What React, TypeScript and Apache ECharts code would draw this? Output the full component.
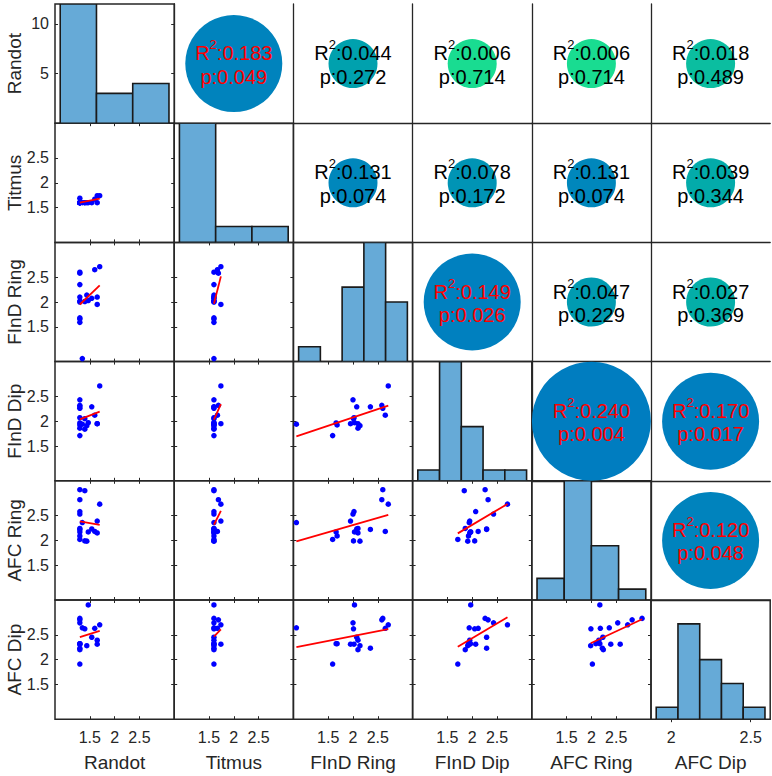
import React, { useEffect, useRef } from 'react';
import * as echarts from 'echarts';

// ---------------- data ----------------
const variableNames = ['Randot', 'Titmus', 'FInD Ring', 'FInD Dip', 'AFC Ring', 'AFC Dip'];

// one value per subject (19 subjects), null = missing
const randot = [1.35, 1.30, 1.30, 1.30, 1.70, 1.60, 1.30, 1.30, 1.30, 1.44, 1.65, 1.30, 1.30, 1.40, 1.54, 1.65, 1.30, 1.47, 1.40];
const titmus = [1.60, 1.60, 1.60, 1.60, 1.74, 1.67, 1.60, 1.69, 1.60, 1.60, 1.74, 1.60, 1.60, 1.60, 1.60, 1.60, 1.60, 1.60, 1.60];
const findRing = [0.86, 1.59, 1.66, 1.68, 2.71, 2.65, 2.35, 2.58, 2.60, 2.14, 1.95, 2.00, 2.02, 2.01, 2.075, 2.10, 2.10, 2.03, null];
const findDip = [1.94, 1.71, 1.965, 1.925, 2.71, 2.12, 2.29, 2.32, 2.26, 1.91, 1.95, 2.43, 2.07, 2.05, 2.29, 1.95, 1.86, 1.97, 1.84];
const afcRing = [2.36, 2.02, 2.17, 2.09, 2.73, 2.18, 2.22, 2.82, 3.02, 1.985, 2.39, 2.53, 2.58, 1.99, 2.23, 2.15, 2.24, 2.17, 3.00];
const afcDip = [2.64, 1.91, 2.32, 2.32, 2.70, 2.63, 2.23, 2.80, 2.83, 2.28, 2.31, 2.74, 2.31, 2.62, 2.45, 2.39, 2.20, 3.10, null];

// diagonal histograms
const histCounts = [
  [12, 3, 4],
  [15, 2, 2],
  [1, 0, 5, 8, 4],
  [1, 11, 5, 1, 1],
  [2, 11, 5, 1],
  [1, 8, 5, 3, 1],
];
const histRanges = [
  [1.30, 1.70],
  [1.60, 1.74],
  [0.86, 2.71],
  [1.71, 2.71],
  [1.985, 3.02],
  [1.905, 2.59],
];
const histYMax = [12, 15, 8, 11, 11, 10];

// upper triangle, row-major: (1,2),(1,3),...,(5,6)
const corrR2 = [0.183, 0.044, 0.006, 0.006, 0.018, 0.131, 0.078, 0.131, 0.039, 0.149, 0.047, 0.027, 0.240, 0.170, 0.120];
const corrP = [0.049, 0.272, 0.714, 0.714, 0.489, 0.074, 0.172, 0.074, 0.344, 0.026, 0.229, 0.369, 0.004, 0.017, 0.048];

const scatterRange = [0.8, 3.2];
const scatterTicks = [1.5, 2, 2.5];
const randotHistTicks = [5, 10];
const afcDipHistTicks = [2, 2.5];

// ---------------- style ----------------
const FONT = '"Liberation Sans", Arial, Helvetica, sans-serif';
const EDGE = '#262626';
const BAR = '#66AAD7';
const LEFT = 55;
const TOP = 4;
const CELL = 119.2;

function circleColor(p: number) {
  const f = Math.min(1, 0.49 + 0.52 * p);
  const g = Math.round(f * 255);
  const b = Math.round((1 - f / 2) * 255);
  const r = Math.round(Math.max(0, p - 0.3) * 60);
  return `rgb(${r},${g},${b})`;
}
function circleSize(p: number) {
  if (p < 0.01) return 119;
  if (p < 0.05) return 97;
  return 49;
}

function fitLine(xs: (number | null)[], ys: (number | null)[]) {
  const pts: number[][] = [];
  xs.forEach((x, i) => {
    const y = ys[i];
    if (x != null && y != null) pts.push([x, y]);
  });
  const n = pts.length;
  const mx = pts.reduce((s, p) => s + p[0], 0) / n;
  const my = pts.reduce((s, p) => s + p[1], 0) / n;
  let sxy = 0, sxx = 0;
  pts.forEach((p) => { sxy += (p[0] - mx) * (p[1] - my); sxx += (p[0] - mx) ** 2; });
  const slope = sxx ? sxy / sxx : 0;
  const b = my - slope * mx;
  const x0 = Math.min(...pts.map((p) => p[0]));
  const x1 = Math.max(...pts.map((p) => p[0]));
  return { pts, line: [[x0, b + slope * x0], [x1, b + slope * x1]] };
}

function buildOption() {
  const vars = [randot, titmus, findRing, findDip, afcRing, afcDip];
  const grid: any[] = [];
  const xAxis: any[] = [];
  const yAxis: any[] = [];
  const series: any[] = [];
  const graphic: any[] = [];
  let corrIdx = 0;
  const labelStyle = { fontSize: 16, color: EDGE, fontFamily: FONT };

  for (let r = 0; r < 6; r++) {
    for (let c = 0; c < 6; c++) {
      const gi = grid.length;
      const isUpper = r < c;
      const isDiag = r === c;
      grid.push({
        left: LEFT + c * CELL,
        top: TOP + r * CELL,
        width: CELL,
        height: CELL,
        show: !isUpper,
        borderColor: EDGE,
        borderWidth: 1.5,
        backgroundColor: 'transparent',
        outerBoundsMode: 'none',
        containLabel: false,
      });
      const xi = xAxis.length;
      const yi = yAxis.length;
      if (!isUpper && !isDiag) {
        const mk = (pos: string, lab: boolean, isX: boolean) => ({
          type: 'value',
          gridIndex: gi,
          min: scatterRange[0],
          max: scatterRange[1],
          position: pos,
          axisLine: { show: false },
          splitLine: { show: false },
          axisTick: { show: true, inside: true, length: 3, customValues: scatterTicks, lineStyle: { color: EDGE, width: 1 } },
          axisLabel: { show: lab, customValues: scatterTicks, margin: isX ? 10 : 6, ...labelStyle },
        });
        xAxis.push(mk('bottom', r === 5, true));
        xAxis.push(mk('top', false, true));
        yAxis.push(mk('left', c === 0, false));
        yAxis.push(mk('right', false, false));
        const { pts, line } = fitLine(vars[c], vars[r]);
        series.push({
          type: 'scatter', xAxisIndex: xi, yAxisIndex: yi, data: pts, symbolSize: 5.5,
          itemStyle: { color: '#0000ff', opacity: 1 }, silent: true, z: 2,
        });
        series.push({
          type: 'line', xAxisIndex: xi, yAxisIndex: yi, data: line, showSymbol: false, symbol: 'none',
          lineStyle: { color: '#ff0000', width: 1.8 }, silent: true, z: 3,
        });
      } else if (isDiag) {
        const [lo, hi] = histRanges[r];
        const counts = histCounts[r];
        const w = (hi - lo) / counts.length;
        const pad = (hi - lo) * 0.048;
        const showX = r === 5;
        const showY = r === 0;
        const mkx = (pos: string, lab: boolean) => ({
          type: 'value', gridIndex: gi, min: lo - pad, max: hi + pad, position: pos,
          axisLine: { show: false }, splitLine: { show: false },
          axisTick: { show: showX, inside: true, length: 3, customValues: afcDipHistTicks, lineStyle: { color: EDGE } },
          axisLabel: { show: lab, customValues: afcDipHistTicks, margin: 10, ...labelStyle },
        });
        const mky = (pos: string, lab: boolean) => ({
          type: 'value', gridIndex: gi, min: 0, max: histYMax[r], position: pos,
          axisLine: { show: false }, splitLine: { show: false },
          axisTick: { show: showY, inside: true, length: 3, customValues: randotHistTicks, lineStyle: { color: EDGE } },
          axisLabel: { show: lab, customValues: randotHistTicks, margin: 6, ...labelStyle },
        });
        xAxis.push(mkx('bottom', showX));
        xAxis.push(mkx('top', false));
        yAxis.push(mky('left', showY));
        yAxis.push(mky('right', false));
        series.push({
          type: 'custom', xAxisIndex: xi, yAxisIndex: yi, silent: true, clip: true,
          data: counts.map((cnt, k) => [lo + k * w, lo + (k + 1) * w, cnt]),
          encode: { x: [0, 1], y: 2 },
          renderItem: (params: any, api: any) => {
            const cnt = api.value(2);
            if (!cnt) return null;
            const p0 = api.coord([api.value(0), 0]);
            const p1 = api.coord([api.value(1), cnt]);
            return {
              type: 'rect',
              shape: { x: p0[0], y: p1[1], width: p1[0] - p0[0], height: p0[1] - p1[1] },
              style: { fill: BAR, stroke: '#1a1a1a', lineWidth: 1.6 },
            };
          },
        });
      } else {
        const base = {
          type: 'value', gridIndex: gi, min: 0, max: 1,
          axisLine: { show: true, onZero: false, lineStyle: { color: EDGE, width: 1.3 } },
          axisTick: { show: false }, axisLabel: { show: false }, splitLine: { show: false },
        };
        xAxis.push({ ...base, position: 'bottom' });
        yAxis.push({ ...base, position: 'left' });
        const r2 = corrR2[corrIdx];
        const p = corrP[corrIdx];
        corrIdx++;
        const tc = p < 0.05 ? '#ff0000' : '#000000';
        series.push({
          type: 'scatter', xAxisIndex: xi, yAxisIndex: yi, silent: true, z: 2,
          data: [[0.5, 0.5]],
          symbolSize: circleSize(p),
          itemStyle: { color: circleColor(p), opacity: 1 },
          label: {
            show: true,
            position: 'inside',
            offset: [0, 0.5],
            formatter: `{a|R}{s|2}{a|:${r2.toFixed(3)}}\n{b|p:${p.toFixed(3)}}`,
            rich: {
              a: { fontSize: 20, lineHeight: 25, padding: [6, 0, 0, 0], verticalAlign: 'bottom', color: tc, fontFamily: FONT },
              s: { fontSize: 13, lineHeight: 13, verticalAlign: 'top', color: tc, fontFamily: FONT },
              b: { fontSize: 20, lineHeight: 27, color: tc, fontFamily: FONT },
            },
          },
        });
      }
    }
  }

  variableNames.forEach((name, i) => {
    graphic.push({
      type: 'text',
      x: LEFT + i * CELL + CELL / 2,
      y: 762,
      silent: true,
      style: { text: name, fontSize: 19, fontFamily: FONT, fill: EDGE, textAlign: 'center', textVerticalAlign: 'middle', align: 'center', verticalAlign: 'middle' },
    });
    graphic.push({
      type: 'text',
      x: 14.5,
      y: TOP + i * CELL + CELL / 2,
      rotation: Math.PI / 2,
      silent: true,
      style: { text: name, fontSize: 19, fontFamily: FONT, fill: EDGE, textAlign: 'center', textVerticalAlign: 'middle', align: 'center', verticalAlign: 'middle' },
    });
  });

  return {
    animation: false,
    backgroundColor: '#ffffff',
    grid,
    xAxis,
    yAxis,
    series,
    graphic,
  };
}

export default function App() {
  const ref = useRef<HTMLDivElement>(null);
  useEffect(() => {
    if (!ref.current) return;
    const chart = echarts.init(ref.current, undefined, { renderer: 'svg' });
    chart.setOption(buildOption() as any);
    return () => chart.dispose();
  }, []);
  return (
    <div
      ref={ref}
      style={{ position: 'fixed', left: 0, top: 0, width: 772, height: 776, background: '#fff' }}
    />
  );
}
